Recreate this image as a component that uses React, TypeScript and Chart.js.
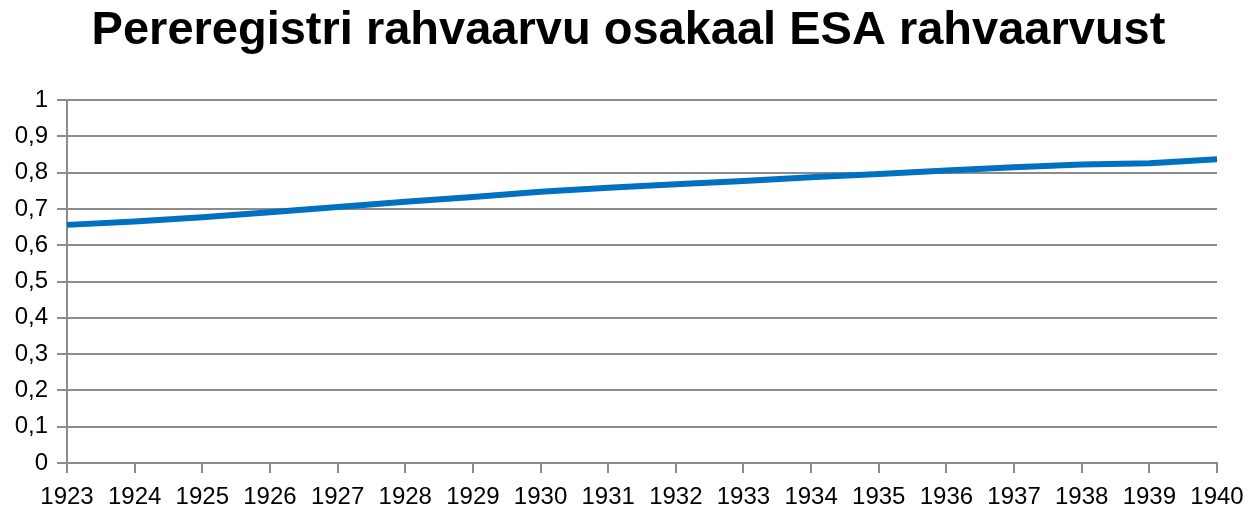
import React, { useEffect, useRef } from "react";
import { Chart, registerables } from "chart.js";

Chart.register(...registerables);

const TITLE = "Pereregistri rahvaarvu osakaal ESA rahvaarvust";
const YEARS = ["1923", "1924", "1925", "1926", "1927", "1928", "1929", "1930", "1931", "1932", "1933", "1934", "1935", "1936", "1937", "1938", "1939", "1940"];
const SHARE = [0.656, 0.665, 0.677, 0.691, 0.705, 0.72, 0.733, 0.747, 0.758, 0.768, 0.777, 0.787, 0.796, 0.806, 0.815, 0.822, 0.826, 0.837];
const Y_MIN = 0;
const Y_MAX = 1;
const Y_STEP = 0.1;

const GRID = "#8c8c8c";
const FONT = "'Liberation Sans', Arial, sans-serif";

const centeredTitle = {
  id: "centeredTitle",
  afterDraw(chart: any) {
    const ctx = chart.ctx;
    ctx.save();
    ctx.font = `bold 47px ${FONT}`;
    ctx.fillStyle = "#000";
    ctx.textAlign = "center";
    ctx.textBaseline = "middle";
    ctx.fillText(TITLE, chart.width / 2, 31);
    ctx.restore();
  },
};

export default function App() {
  const ref = useRef<HTMLCanvasElement | null>(null);
  useEffect(() => {
    if (!ref.current) return;
    const chart = new Chart(ref.current, {
      type: "line",
      data: {
        labels: YEARS,
        datasets: [
          {
            data: SHARE,
            borderColor: "#0070C0",
            borderWidth: 6,
            pointRadius: 0,
            tension: 0,
            fill: false,
          },
        ],
      },
      plugins: [centeredTitle],
      options: {
        animation: false,
        responsive: false,
        maintainAspectRatio: false,
        layout: { padding: { left: 0, right: 40, top: 100, bottom: 0 } },
        plugins: {
          legend: { display: false },
          tooltip: { enabled: false },
          title: { display: false },
        },
        scales: {
          x: {
            type: "category",
            offset: false,
            afterFit: (s: any) => {
              s.height = 47;
            },
            grid: {
              drawOnChartArea: false,
              drawTicks: true,
              tickLength: 10,
              color: GRID,
              lineWidth: 2,
            },
            border: { display: true, color: GRID, width: 2 },
            ticks: {
              color: "#000",
              font: { family: FONT, size: 24 },
              padding: 10,
              maxRotation: 0,
              autoSkip: false,
            },
          },
          y: {
            min: Y_MIN,
            max: Y_MAX,
            afterFit: (s: any) => {
              s.width = 67;
            },
            grid: {
              color: GRID,
              lineWidth: 2,
              tickLength: 10,
            },
            border: { display: true, color: GRID, width: 2 },
            ticks: {
              stepSize: Y_STEP,
              color: "#000",
              font: { family: FONT, size: 24 },
              padding: 9,
              callback: (v: any) => {
                const n = Number(v);
                if (Math.abs(n) < 1e-9) return "0";
                if (Math.abs(n - 1) < 1e-9) return "1";
                return n.toFixed(1).replace(".", ",");
              },
            },
          },
        },
      },
    });
    return () => chart.destroy();
  }, []);
  return (
    <div style={{ position: "fixed", left: 0, top: 0, width: 1257, height: 510, background: "#fff" }}>
      <canvas ref={ref} width={1257} height={510} style={{ display: "block", width: 1257, height: 510 }} />
    </div>
  );
}
